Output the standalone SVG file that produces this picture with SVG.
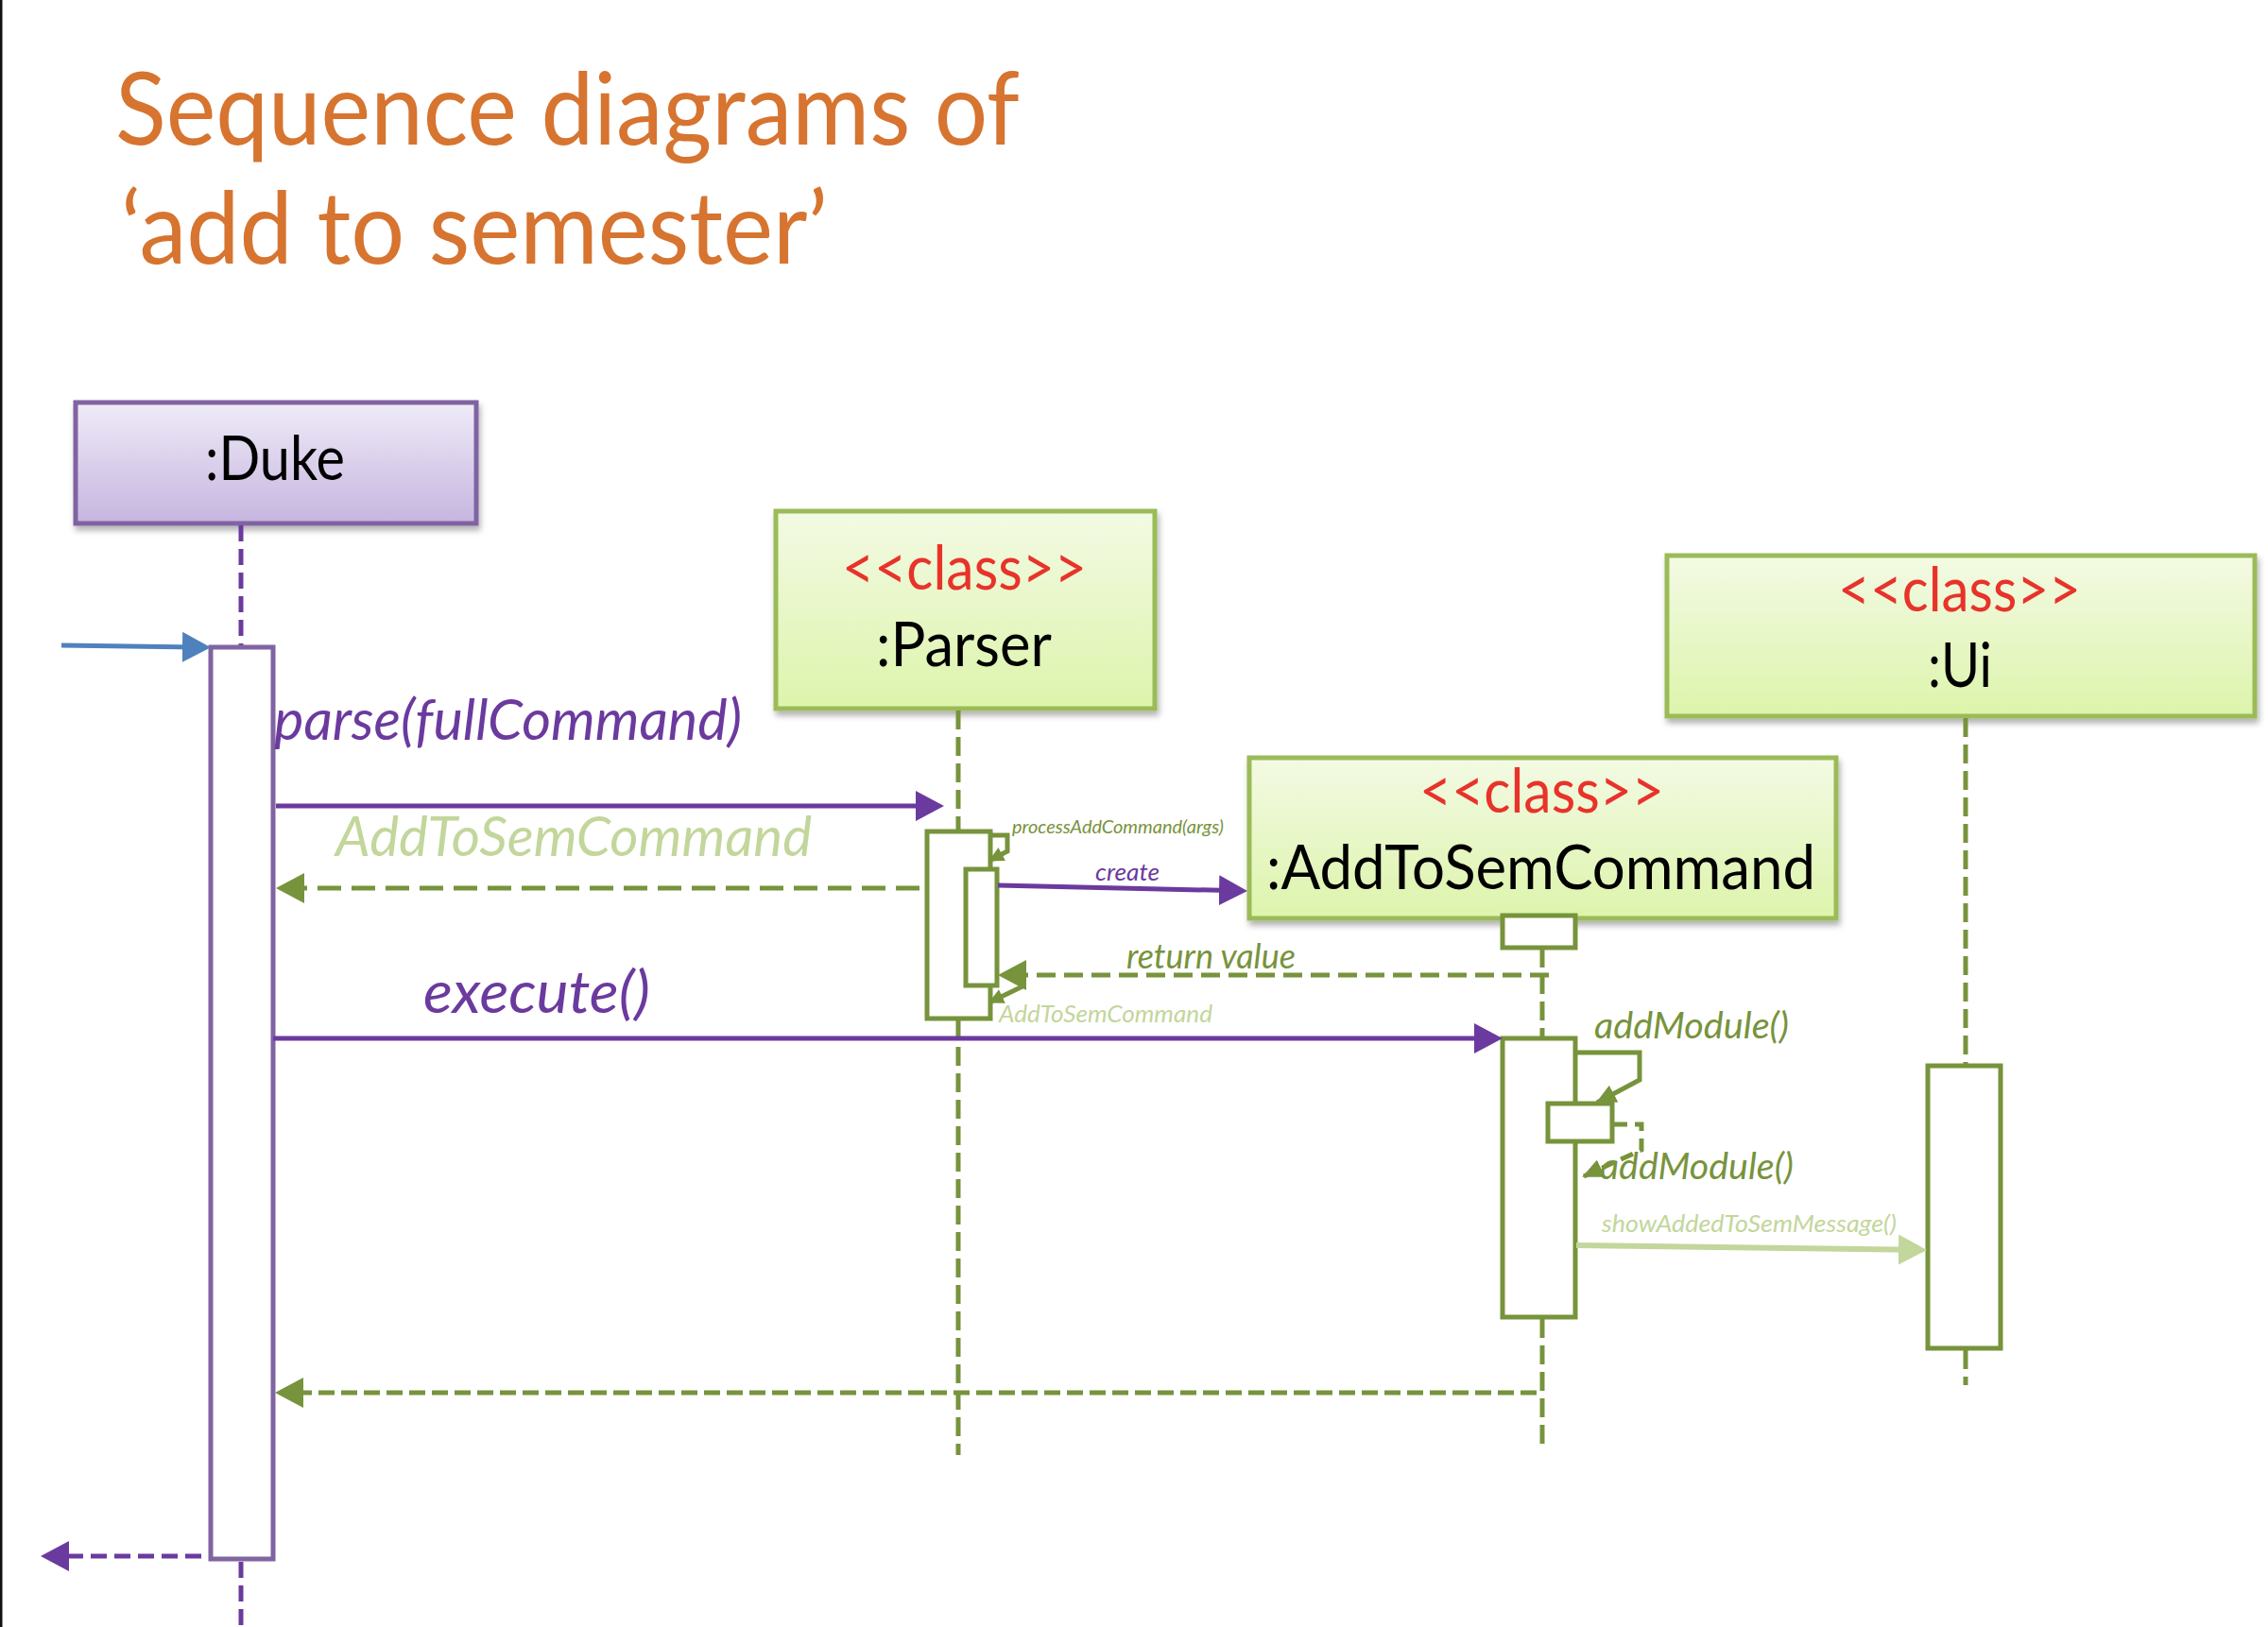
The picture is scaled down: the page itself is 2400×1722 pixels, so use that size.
<svg xmlns="http://www.w3.org/2000/svg" width="2400" height="1722" viewBox="0 0 2400 1722">
<defs>
  <linearGradient id="gPurple" x1="0" y1="0" x2="0" y2="1">
    <stop offset="0" stop-color="#EFEBF7"/>
    <stop offset="1" stop-color="#C6B5E0"/>
  </linearGradient>
  <linearGradient id="gGreen" x1="0" y1="0" x2="0" y2="1">
    <stop offset="0" stop-color="#F3FAE4"/>
    <stop offset="1" stop-color="#DDF4AB"/>
  </linearGradient>
  <filter id="shadow" x="-5%" y="-10%" width="112%" height="125%">
    <feDropShadow dx="2" dy="5" stdDeviation="3" flood-color="#000" flood-opacity="0.3"/>
  </filter>
  <marker id="ahP" markerUnits="userSpaceOnUse" viewBox="0 0 30 32" markerWidth="30" markerHeight="32" refX="14" refY="16" orient="auto">
    <path d="M0,0 L30,16 L0,32 z" fill="#6B3A9E"/>
  </marker>
  <marker id="ahG" markerUnits="userSpaceOnUse" viewBox="0 0 30 32" markerWidth="30" markerHeight="32" refX="14" refY="16" orient="auto">
    <path d="M0,0 L30,16 L0,32 z" fill="#77933C"/>
  </marker>
  <marker id="ahL" markerUnits="userSpaceOnUse" viewBox="0 0 30 32" markerWidth="30" markerHeight="32" refX="14" refY="16" orient="auto">
    <path d="M0,0 L30,16 L0,32 z" fill="#C3D69B"/>
  </marker>
  <marker id="ahB" markerUnits="userSpaceOnUse" viewBox="0 0 30 32" markerWidth="30" markerHeight="32" refX="14" refY="16" orient="auto">
    <path d="M0,0 L30,16 L0,32 z" fill="#4F81BD"/>
  </marker>
  <marker id="ahGm" markerUnits="userSpaceOnUse" viewBox="0 0 22 20" markerWidth="22" markerHeight="20" refX="20" refY="10" orient="auto">
    <path d="M0,0 L22,10 L0,20 z" fill="#77933C"/>
  </marker>
  <marker id="ahGs" markerUnits="userSpaceOnUse" viewBox="0 0 16 16" markerWidth="16" markerHeight="16" refX="15" refY="8" orient="auto">
    <path d="M0,0 L16,8 L0,16 z" fill="#77933C"/>
  </marker>
</defs>
<style>
  text { font-family: Lato, "Open Sans", "Liberation Sans", sans-serif; }
  .title { font-size: 106px; fill: #D67430; }
  .box-p { fill: url(#gPurple); stroke: #8064A2; stroke-width: 5; filter: url(#shadow); }
  .box-g { fill: url(#gGreen); stroke: #9BBB59; stroke-width: 5; filter: url(#shadow); }
  .stereo { font-size: 66px; fill: #E8332A; }
  .name { font-size: 66px; fill: #000; }
  .life-p { stroke: #6B3A9E; stroke-width: 5; stroke-dasharray: 17 8; fill: none; }
  .life-g { stroke: #77933C; stroke-width: 5; stroke-dasharray: 20 8; fill: none; }
  .act-p { fill: #fff; stroke: #8064A2; stroke-width: 5; }
  .act-g { fill: #fff; stroke: #77933C; stroke-width: 5; }
  .msg { font-style: italic; }
  .purple { fill: #6B3A9E; }
  .olive { fill: #77933C; }
  .lgreen { fill: #C3D69B; }
  .ln-p { stroke: #6B3A9E; stroke-width: 5; fill: none; }
  .ln-g { stroke: #77933C; stroke-width: 5; fill: none; }
  .ln-l { stroke: #C3D69B; stroke-width: 6; fill: none; }
  .ln-b { stroke: #4F81BD; stroke-width: 5; fill: none; }
</style>

<rect x="0" y="0" width="2400" height="1722" fill="#fff"/>
<rect x="0" y="0" width="2.5" height="1722" fill="#111"/>

<g id="title">
  <text class="title" x="122" y="153" textLength="957" lengthAdjust="spacingAndGlyphs">Sequence diagrams of</text>
  <text class="title" x="128" y="279" textLength="748" lengthAdjust="spacingAndGlyphs">‘add to semester’</text>
</g>

<g id="node-duke">
  <rect class="box-p" x="80" y="426" width="424" height="128"/>
  <text class="name" x="217" y="508" textLength="148" lengthAdjust="spacingAndGlyphs">:Duke</text>
  <line class="life-p" x1="255" y1="556" x2="255" y2="684"/>
  <line class="life-p" x1="255" y1="1653" x2="255" y2="1722"/>
  <rect class="act-p" x="223" y="685" width="66" height="965"/>
</g>

<g id="node-parser">
  <rect class="box-g" x="821" y="541" width="401" height="209"/>
  <text class="stereo" x="891" y="624" textLength="259" lengthAdjust="spacingAndGlyphs">&lt;&lt;class&gt;&gt;</text>
  <text class="name" x="927" y="705" textLength="186" lengthAdjust="spacingAndGlyphs">:Parser</text>
  <line class="life-g" x1="1014" y1="752" x2="1014" y2="880"/>
  <line class="life-g" x1="1014" y1="1080" x2="1014" y2="1540"/>
  <rect class="act-g" x="981" y="880" width="67" height="198"/>
  <rect class="act-g" x="1022" y="920" width="33" height="123"/>
</g>

<g id="node-addtosem">
  <rect class="box-g" x="1322" y="802" width="621" height="170"/>
  <text class="stereo" x="1502" y="860" textLength="259" lengthAdjust="spacingAndGlyphs">&lt;&lt;class&gt;&gt;</text>
  <text class="name" x="1340" y="941" textLength="581" lengthAdjust="spacingAndGlyphs">:AddToSemCommand</text>
  <line class="life-g" x1="1632" y1="1004" x2="1632" y2="1098"/>
  <line class="life-g" x1="1632" y1="1396" x2="1632" y2="1532"/>
  <rect class="act-g" x="1590" y="969" width="77" height="34"/>
  <rect class="act-g" x="1590" y="1099" width="77" height="295"/>
  <rect class="act-g" x="1638" y="1168" width="68" height="40"/>
</g>

<g id="node-ui">
  <rect class="box-g" x="1764" y="588" width="622" height="170"/>
  <text class="stereo" x="1945" y="647" textLength="257" lengthAdjust="spacingAndGlyphs">&lt;&lt;class&gt;&gt;</text>
  <text class="name" x="2040" y="727" textLength="68" lengthAdjust="spacingAndGlyphs">:Ui</text>
  <line class="life-g" x1="2080" y1="760" x2="2080" y2="1127"/>
  <line class="life-g" x1="2080" y1="1429" x2="2080" y2="1466"/>
  <rect class="act-g" x="2040" y="1128" width="77" height="299"/>
</g>

<g id="connectors">
  <line class="ln-b" x1="65" y1="683" x2="207" y2="685" marker-end="url(#ahB)"/>
  <line class="ln-p" x1="292" y1="853" x2="983" y2="853" marker-end="url(#ahP)"/>
  <line class="ln-g" x1="973" y1="940" x2="308" y2="940" stroke-dasharray="25 11" marker-end="url(#ahG)"/>
  <path class="ln-g" d="M1048,884 H1066 V901 L1047,911" stroke-width="4" marker-end="url(#ahGs)"/>
  <line class="ln-p" x1="1056" y1="937" x2="1304" y2="942.6" marker-end="url(#ahP)"/>
  <line class="ln-g" x1="1639" y1="1032" x2="1072" y2="1032" stroke-dasharray="20 9" marker-end="url(#ahG)"/>
  <path class="ln-g" d="M1082,1044 L1047,1061" stroke-width="4" marker-end="url(#ahGs)"/>
  <line class="ln-p" x1="289" y1="1099" x2="1574" y2="1099" marker-end="url(#ahP)"/>
  <path class="ln-g" d="M1667,1114 H1735 V1143 L1690,1167" marker-end="url(#ahGm)"/>
  <path class="ln-g" d="M1708,1190 H1737 V1217 L1676,1245" stroke-width="4" stroke-dasharray="14 8" marker-end="url(#ahGm)"/>
  <line class="ln-l" x1="1668" y1="1318" x2="2023" y2="1322.8" marker-end="url(#ahL)"/>
  <line class="ln-g" x1="1626" y1="1474" x2="307" y2="1474" stroke-dasharray="17 7" marker-end="url(#ahG)"/>
  <line class="ln-p" x1="213" y1="1647" x2="59" y2="1647" stroke-dasharray="17 8" marker-end="url(#ahP)"/>

  <text class="msg purple" x="290" y="783" font-size="60" textLength="495" lengthAdjust="spacingAndGlyphs">parse(fullCommand)</text>
  <text class="msg lgreen" x="355" y="906" font-size="59" textLength="504" lengthAdjust="spacingAndGlyphs">AddToSemCommand</text>
  <text class="msg olive" x="1071" y="882" font-size="20" textLength="224" lengthAdjust="spacingAndGlyphs">processAddCommand(args)</text>
  <text class="msg purple" x="1159" y="932" font-size="26" textLength="68" lengthAdjust="spacingAndGlyphs">create</text>
  <text class="msg olive" x="1192" y="1025" font-size="36" textLength="179" lengthAdjust="spacingAndGlyphs">return value</text>
  <text class="msg lgreen" x="1057" y="1082" font-size="26" textLength="226" lengthAdjust="spacingAndGlyphs">AddToSemCommand</text>
  <text class="msg purple" x="448" y="1072" font-size="62" textLength="240" lengthAdjust="spacingAndGlyphs">execute()</text>
  <text class="msg olive" x="1687" y="1099" font-size="39" textLength="206" lengthAdjust="spacingAndGlyphs">addModule()</text>
  <text class="msg olive" x="1693" y="1248" font-size="39" textLength="205" lengthAdjust="spacingAndGlyphs">addModule()</text>
  <text class="msg lgreen" x="1695" y="1304" font-size="26" textLength="312" lengthAdjust="spacingAndGlyphs">showAddedToSemMessage()</text>
</g>
</svg>
